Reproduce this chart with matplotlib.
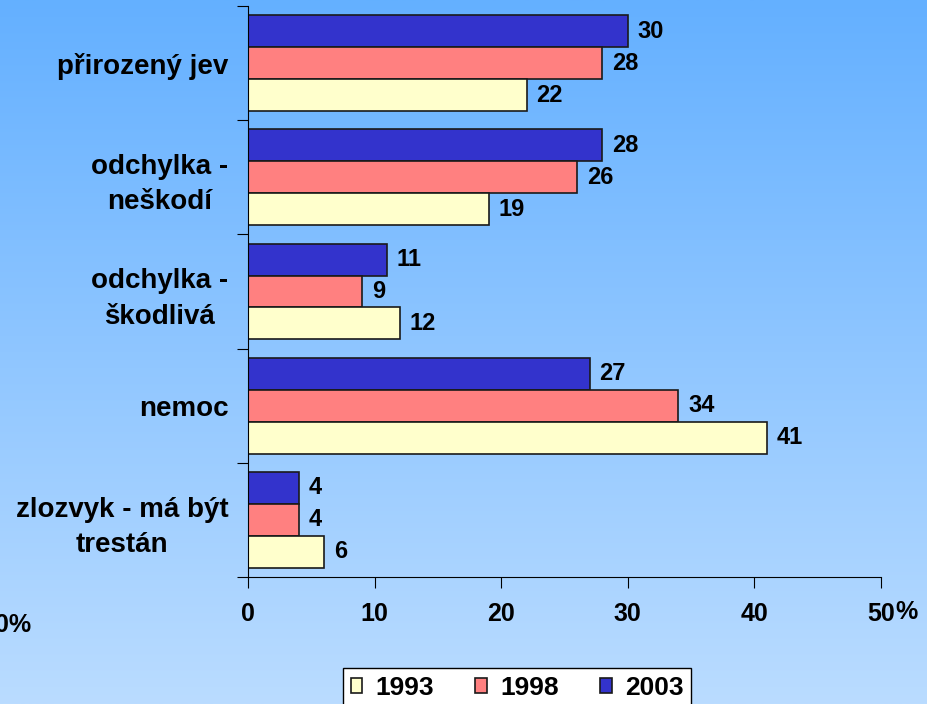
import matplotlib.pyplot as plt
import numpy as np

categories = ["přirozený jev", "odchylka -\nneškodí", "odchylka -\nškodlivá", "nemoc", "zlozvyk - má být\ntrestán"]
years = ["1993", "1998", "2003"]
v1993 = [22, 19, 12, 41, 6]
v1998 = [28, 26, 9, 34, 4]
v2003 = [30, 28, 11, 27, 4]
colors = {"1993": "#FFFFCC", "1998": "#FF8080", "2003": "#3333CC"}

plt.rcParams["font.family"] = ["Liberation Sans", "DejaVu Sans"]
plt.rcParams["font.weight"] = "bold"
plt.rcParams["font.size"] = 17

fig = plt.figure(figsize=(9.28, 7.04), dpi=100)

# gradient background
bg = fig.add_axes([0, 0, 1, 1], zorder=-10)
top = np.array([100, 176, 255]) / 255
bottom = np.array([186, 220, 255]) / 255
t = np.linspace(0, 1, 256)[:, None]
grad = top + (bottom - top) * t
bg.imshow(grad[:, None, :], aspect="auto", extent=[0, 1, 0, 1])
bg.axis("off")

ax = fig.add_axes([248 / 928, 1 - 577 / 704, (881 - 248) / 928, (577 - 6) / 704])
ax.patch.set_alpha(0)

y = np.arange(len(categories))
h = 0.28
series = [("2003", v2003, -h), ("1998", v1998, 0), ("1993", v1993, h)]
bars = {}
for name, vals, off in series:
    b = ax.barh(y + off, vals, height=h, color=colors[name], edgecolor="#1a1a1a",
                linewidth=1.2, label=name)
    bars[name] = b
    for yy, v in zip(y + off, vals):
        ax.annotate(str(v), (v, yy), xytext=(7, 0), textcoords="offset points",
                    ha="left", va="center", fontsize=17, fontweight="bold")

ax.set_xlim(0, 50)
ax.set_ylim(4.5, -0.5)
ax.set_xticks([0, 10, 20, 30, 40, 50])
ax.set_xticklabels(["0", "10", "20", "30", "40", "50"], fontsize=18)
ax.set_yticks(np.arange(-0.5, 5, 1))
ax.set_yticklabels([])
ax.set_yticks(y, minor=True)
ax.set_yticklabels(categories, minor=True, multialignment="center", linespacing=1.45,
                   fontsize=20, fontweight="bold")
ax.tick_params(axis="y", which="minor", length=0, pad=14)
ax.tick_params(axis="y", which="major", length=8, direction="out")
ax.tick_params(axis="x", length=8, direction="out", pad=10)
for s in ["top", "right"]:
    ax.spines[s].set_visible(False)

fig.text(918 / 928, 1 - 612 / 704, "%", ha="right", va="center", fontsize=18, fontweight="bold")
fig.text(31 / 928, 1 - 625 / 704, "0%", ha="right", va="center", fontsize=18, fontweight="bold")

handles = [bars["1993"], bars["1998"], bars["2003"]]
leg = fig.legend(handles, years, loc="upper center", bbox_to_anchor=(517 / 928, 1 - 668 / 704),
                 ncol=3, frameon=True, fancybox=False, edgecolor="black", facecolor="white",
                 framealpha=1, handlelength=0.45, handleheight=0.45, handletextpad=0.5,
                 columnspacing=1.55, borderpad=0.3, borderaxespad=0,
                 prop={"weight": "bold", "size": 19})
leg.get_frame().set_linewidth(1)

fig.savefig("out.png", dpi=100)
